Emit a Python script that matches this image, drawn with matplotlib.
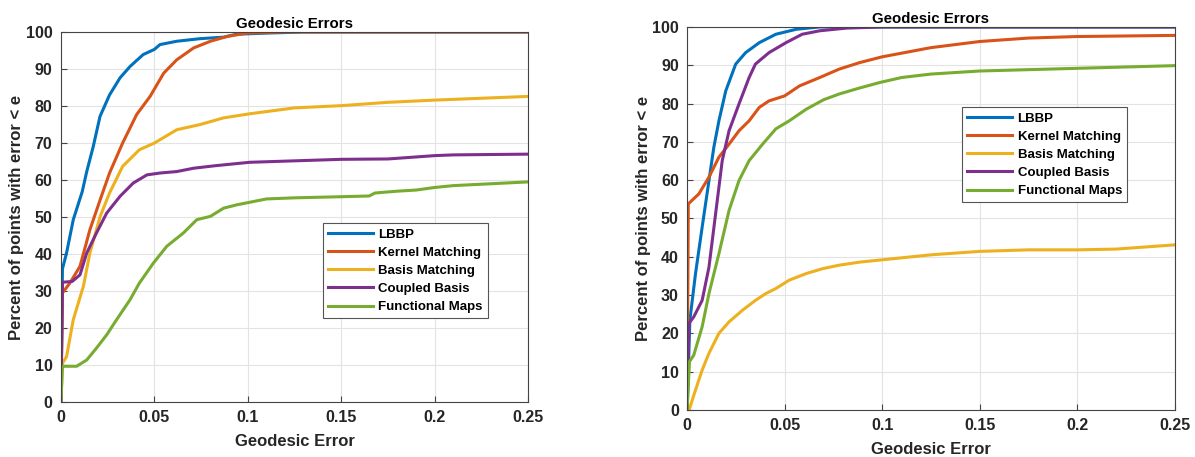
import matplotlib
matplotlib.use("Agg")
import matplotlib.pyplot as plt

plt.rcParams['font.family'] = ['Liberation Sans', 'DejaVu Sans']
plt.rcParams['font.weight'] = 'bold'

# MATLAB default colour order
COLORS = ['#0072BD', '#D95319', '#EDB120', '#7E2F8E', '#77AC30']
LABELS = ['LBBP', 'Kernel Matching', 'Basis Matching', 'Coupled Basis', 'Functional Maps']

# ---- left panel: (geodesic error, percent) ----
left_lbbp_x = [0, 0.0008, 0.003, 0.0066, 0.0114, 0.0138, 0.0173, 0.0209, 0.026, 0.0316, 0.037,
               0.044, 0.05, 0.053, 0.062, 0.0745, 0.087, 0.094, 0.11, 0.13, 0.25]
left_lbbp_y = [0, 36, 40.3, 49.3, 56.9, 62.3, 69.1, 77.2, 83, 87.6, 90.7,
               93.9, 95.3, 96.6, 97.5, 98.2, 98.6, 99.4, 99.7, 100, 100]

left_kernel_x = [0, 0.0008, 0.0048, 0.0102, 0.0155, 0.021, 0.026, 0.033, 0.0405, 0.0477, 0.055,
                 0.062, 0.071, 0.08, 0.089, 0.0995, 0.12, 0.25]
left_kernel_y = [0, 29.5, 32.2, 36.7, 46.6, 54.7, 61.9, 70, 77.7, 82.6, 88.9,
                 92.5, 95.7, 97.5, 98.8, 99.7, 100, 100]

left_basis_x = [0, 0.0008, 0.003, 0.0066, 0.012, 0.0155, 0.021, 0.026, 0.033, 0.042, 0.05,
                0.062, 0.0745, 0.087, 0.101, 0.125, 0.15, 0.175, 0.2, 0.25]
left_basis_y = [0, 10.5, 12.3, 22.3, 31.3, 40.3, 50.2, 56.5, 63.7, 68.2, 70,
                73.6, 75, 76.8, 77.9, 79.5, 80.1, 81, 81.6, 82.6]

left_coupled_x = [0, 0.0008, 0.006, 0.0102, 0.0138, 0.019, 0.0245, 0.0316, 0.0387, 0.046, 0.053,
                  0.062, 0.071, 0.083, 0.101, 0.15, 0.175, 0.2, 0.21, 0.25]
left_coupled_y = [0, 32.4, 32.6, 34.4, 40.3, 45.7, 51.1, 55.6, 59.2, 61.4, 61.9,
                  62.3, 63.2, 63.9, 64.8, 65.6, 65.7, 66.6, 66.8, 67]

left_func_x = [0, 0.0008, 0.0084, 0.0138, 0.019, 0.0245, 0.0298, 0.037, 0.042, 0.0495, 0.0566,
               0.0655, 0.0727, 0.08, 0.087, 0.094, 0.101, 0.11, 0.125, 0.15, 0.165, 0.168,
               0.18, 0.19, 0.2, 0.21, 0.25]
left_func_y = [0, 9.7, 9.7, 11.4, 14.6, 18.2, 22.3, 27.7, 32.2, 37.6, 42.1,
               45.7, 49.3, 50.2, 52.4, 53.3, 54, 54.9, 55.2, 55.5, 55.7, 56.5,
               57, 57.3, 58, 58.5, 59.5]

# ---- right panel ----
right_lbbp_x = [0, 0.0014, 0.0043, 0.0077, 0.0112, 0.0137, 0.0163, 0.0198, 0.0249, 0.03, 0.037,
                0.0455, 0.056, 0.068, 0.25]
right_lbbp_y = [0, 23.4, 35.6, 47.7, 59.9, 68.6, 75.5, 83.3, 90.3, 93.3, 95.9,
                98.1, 99.4, 100, 100]

right_kernel_x = [0, 0.0006, 0.006, 0.0112, 0.0163, 0.0215, 0.0266, 0.0318, 0.037, 0.042, 0.05,
                  0.0576, 0.068, 0.078, 0.0885, 0.1, 0.125, 0.15, 0.175, 0.2, 0.25]
right_kernel_y = [0, 53.8, 56.4, 60.8, 66, 69.4, 72.9, 75.5, 79, 80.7, 82,
                  84.6, 86.8, 89, 90.7, 92.2, 94.6, 96.2, 97.1, 97.5, 97.8]

right_basis_x = [0, 0.001, 0.0043, 0.0077, 0.0112, 0.0163, 0.0215, 0.0283, 0.035, 0.0404, 0.0455,
                 0.0524, 0.061, 0.0696, 0.078, 0.0885, 0.1, 0.125, 0.15, 0.175, 0.2, 0.22, 0.25]
right_basis_y = [0, 0, 5.2, 10.4, 14.8, 20, 23, 26, 28.6, 30.4, 31.7,
                 33.9, 35.6, 36.9, 37.8, 38.6, 39.2, 40.5, 41.4, 41.8, 41.8, 42, 43.1]

right_coupled_x = [0, 0.0009, 0.0034, 0.0077, 0.0112, 0.0146, 0.018, 0.0215, 0.0266, 0.0318, 0.035,
                   0.042, 0.0507, 0.059, 0.068, 0.0816, 0.1, 0.25]
right_coupled_y = [0, 22.6, 24.3, 28.6, 37.3, 51.2, 65.1, 72.9, 79.9, 86.8, 90.3,
                   93.3, 95.9, 98.1, 99, 99.7, 100, 100]

right_func_x = [0, 0.0012, 0.0034, 0.0077, 0.0112, 0.0163, 0.0215, 0.0266, 0.0318, 0.0387, 0.0455,
                0.0524, 0.061, 0.07, 0.078, 0.088, 0.0988, 0.11, 0.125, 0.15, 0.2, 0.25]
right_func_y = [0, 12.6, 14.3, 21.7, 30.4, 40.8, 52.1, 59.9, 65.1, 69.4, 73.4,
                75.5, 78.5, 81, 82.5, 84, 85.5, 86.8, 87.7, 88.5, 89.2, 89.9]

left_series = [(left_lbbp_x, left_lbbp_y), (left_kernel_x, left_kernel_y),
               (left_basis_x, left_basis_y), (left_coupled_x, left_coupled_y),
               (left_func_x, left_func_y)]
right_series = [(right_lbbp_x, right_lbbp_y), (right_kernel_x, right_kernel_y),
                (right_basis_x, right_basis_y), (right_coupled_x, right_coupled_y),
                (right_func_x, right_func_y)]

x_ticks = [0, 0.05, 0.1, 0.15, 0.2, 0.25]
x_ticklabels = ['0', '0.05', '0.1', '0.15', '0.2', '0.25']
y_ticks = list(range(0, 101, 10))


def draw_panel(ax, series, legend_anchor):
    for (xs, ys), color, label in zip(series, COLORS, LABELS):
        ax.plot(xs, ys, color=color, lw=2.2, label=label)
    ax.set_xlim(0, 0.25)
    ax.set_ylim(0, 100)
    ax.set_xticks(x_ticks)
    ax.set_xticklabels(x_ticklabels)
    ax.set_yticks(y_ticks)
    ax.grid(True, color='#e3e3e3', lw=0.8)
    ax.set_axisbelow(True)
    ax.tick_params(direction='in', length=4, labelsize=11.5, color='#444444',
                   labelcolor='#262626', pad=6)
    for s in ax.spines.values():
        s.set_color('#444444')
        s.set_linewidth(0.8)
    ax.set_title('Geodesic Errors', fontsize=10.8, fontweight='bold', pad=3)
    ax.set_xlabel('Geodesic Error', fontsize=12, fontweight='bold', color='#262626', labelpad=6)
    ax.set_ylabel('Percent of points with error < e', fontsize=12, fontweight='bold',
                  color='#262626', labelpad=1)
    leg = ax.legend(loc='upper left', bbox_to_anchor=legend_anchor, fontsize=9.5,
                    handlelength=3.4, handletextpad=0.4, borderpad=0.4, labelspacing=0.45,
                    fancybox=False, framealpha=1, edgecolor='#555555', borderaxespad=0)
    leg.get_frame().set_linewidth(0.8)


fig = plt.figure(figsize=(11.95, 4.57), dpi=100)
ax1 = fig.add_axes([0.051, 0.120, 0.391, 0.810])
ax2 = fig.add_axes([0.575, 0.103, 0.408, 0.838])

draw_panel(ax1, left_series, (0.561, 0.484))
draw_panel(ax2, right_series, (0.564, 0.791))

fig.savefig('out.png', dpi=100)
